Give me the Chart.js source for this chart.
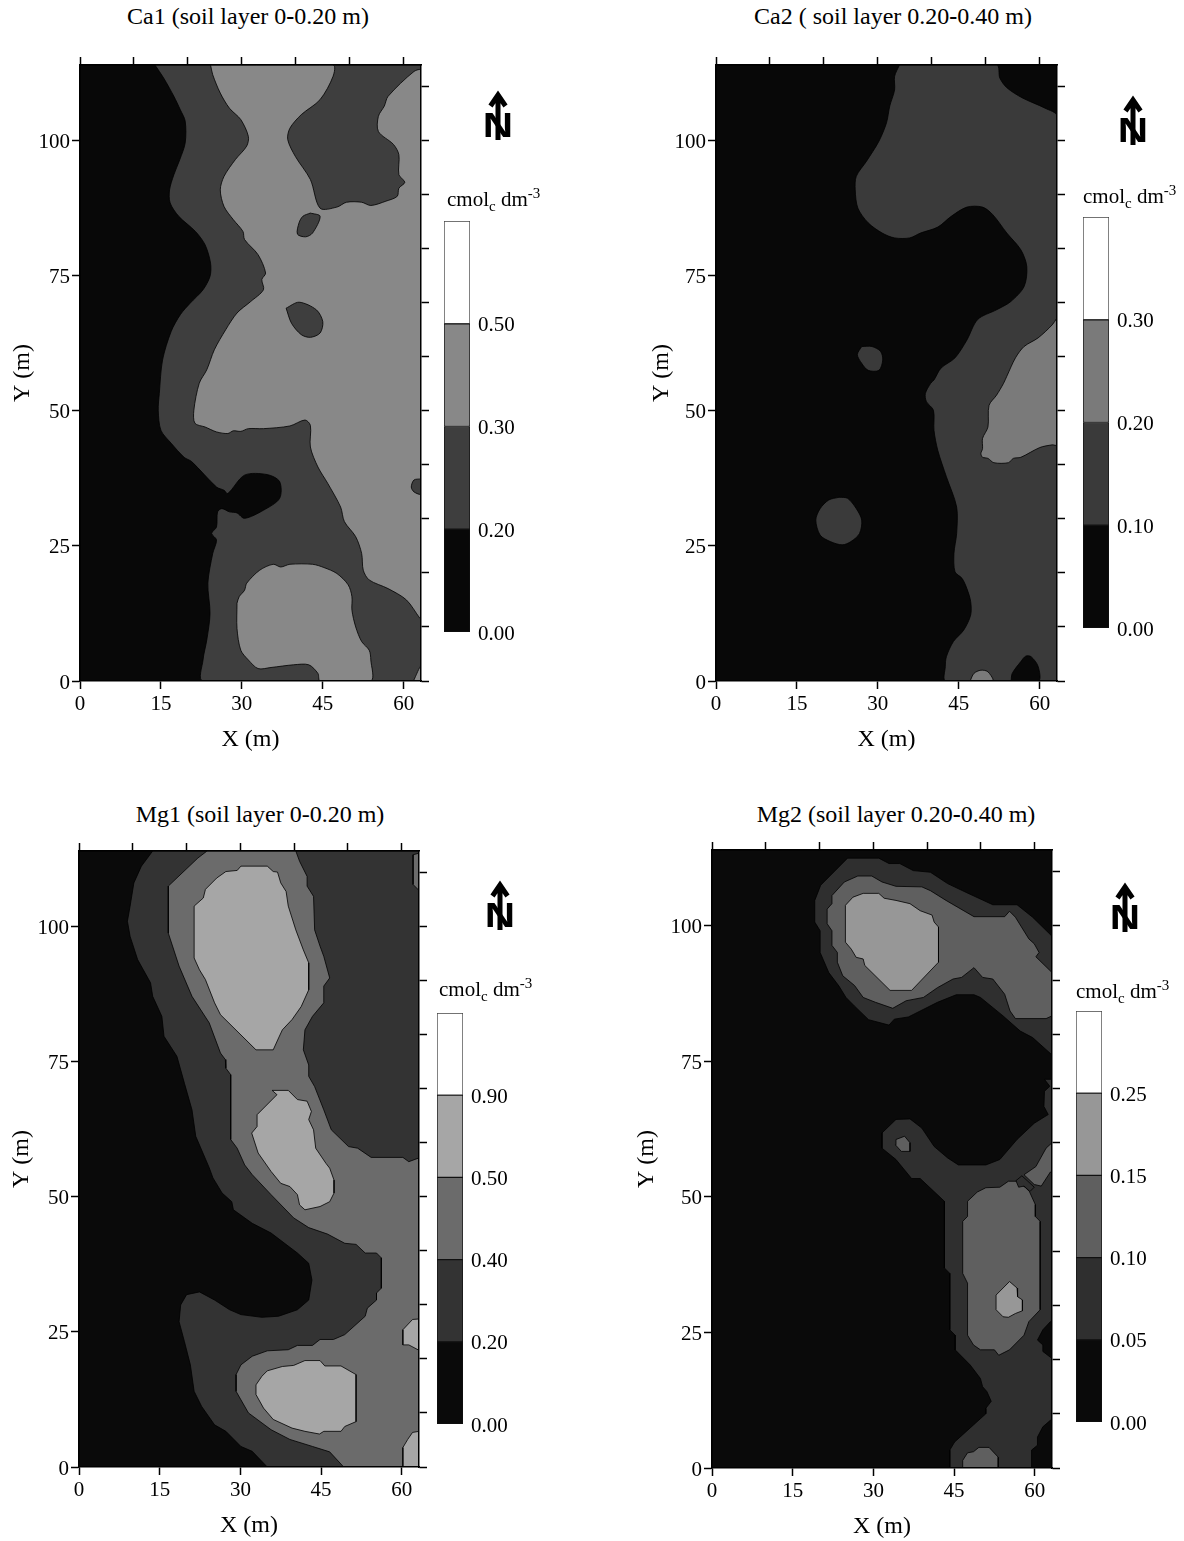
<!DOCTYPE html>
<html>
<head>
<meta charset="utf-8">
<title>Ca and Mg maps</title>
<script src="https://cdn.jsdelivr.net/npm/chart.js@4"></script>
<style>
    html, body { margin: 0; padding: 0; background: #fff; }
    #page { position: relative; width: 1184px; height: 1541px; overflow: hidden; font-family: "Liberation Serif", serif; color: #000; }
    canvas { position: absolute; }
    .title { position: absolute; font-size: 24px; line-height: 28px; white-space: pre; transform: translate(-50%, -50%); }
    .unit { position: absolute; font-size: 21px; line-height: 24px; white-space: pre; transform: translateY(-50%); }
    .unit sub, .unit sup { font-size: 15px; line-height: 0; }
    .north { position: absolute; width: 32px; height: 52px; }
    .north span { position: absolute; left: 0; top: 18px; width: 32px; text-align: center; font: bold 35px/36px "Liberation Sans", sans-serif; transform: scaleX(1.2); }
    .north svg { position: absolute; left: 0; top: 0; }
</style>
</head>
<body>
<div id="page"></div>
<script>
// axis values
const xBottomTicks = [0, 15, 30, 45, 60];
const yLeftTicks = [0, 25, 50, 75, 100];
const xTopStep = 10;
const yRightStep = 10;
const xMax = 63.2;
const yMax = 114;

// colour bar labels, bottom to top
const ca1Levels = ['0.00', '0.20', '0.30', '0.50'];
const ca2Levels = ['0.00', '0.10', '0.20', '0.30'];
const mg1Levels = ['0.00', '0.20', '0.40', '0.50', '0.90'];
const mg2Levels = ['0.00', '0.05', '0.10', '0.15', '0.25'];

// contours as [x, y] in metres
const plotRect = [[0, 0], [0, 114], [63.2, 114], [63.2, 0]];

const ca1Dark = [[13.9,114],[15.5,111.6],[17.4,108.2],[18.6,105.7],[19.5,103.6],[19.5,99.6],[18.5,96.5],[17.4,93.7],[16.6,90.9],[16.7,88.5],[18.3,86],[21.4,83.2],[23.2,80.7],[24.2,77.3],[24.1,74.9],[22.8,72.4],[20.4,69.9],[18.6,67.8],[16.9,64.7],[15.3,59.4],[14.7,53.2],[14.5,50.1],[15,46.4],[16.9,44],[19.3,41.4],[20.7,40.6],[25.3,35.9],[26.7,35.3],[27.4,34.7],[30.5,38.1],[34.7,38.2],[37,36.9],[37,33.8],[34,31.6],[30.5,30.1],[29.1,31.1],[27.7,31.3],[26.3,31.9],[25.5,31.3],[25.3,28.5],[24.4,27.3],[25.3,26.1],[24.6,23.6],[23.7,18.1],[24.1,12.5],[23.5,7.6],[22.8,3.9],[22.8,0],[63.2,0],[63.2,114]];
const ca1Mid = [[24.2,114],[24.6,112.2],[26,108.8],[27.7,106],[29.8,103.9],[31.2,100.8],[30.9,99],[28.8,96.5],[26.7,93.4],[26,90.9],[26.7,87.8],[28.4,85.4],[30.2,83.2],[30.5,81.7],[33,78.9],[34.4,75.5],[33.7,74.3],[34,72.4],[31.6,70.2],[29.1,68.1],[27,65],[24.9,61.3],[23.5,57.6],[22.1,55.1],[21.1,50.1],[21.3,47.7],[23.2,47],[25.3,46.1],[27.4,45.8],[28.4,46.3],[29.8,46.2],[31.2,46.7],[34,46.7],[38.9,47.2],[41.7,48.3],[42.7,47.3],[42.7,43.3],[44.1,39.6],[45.9,36.6],[48.3,32.2],[49,29.5],[51.1,26.7],[52.2,23.6],[52.5,20.5],[53.6,18.7],[57.1,17.1],[60.5,15],[63,11.6],[63.2,11.5],[63.2,113],[61.9,112.8],[57.1,108.2],[56.4,106.4],[55.3,104.5],[55.3,101.7],[58.1,99.3],[59.1,97.4],[59.1,93.7],[60.2,92.3],[59.1,91.2],[58.8,89.7],[56.7,88.8],[53.9,88],[52.2,88.6],[49.4,88.6],[47.6,87.7],[44.5,87.5],[42.7,92.8],[39.9,97.1],[38.5,100.2],[38.9,102.3],[41,104.8],[44.5,107.6],[46.9,111.9],[46.9,114]];
const ca1MidLow = [[29.1,14.4],[29.5,15.6],[30.5,16.8],[30.9,18.1],[33.3,20.5],[35.8,21.6],[37.2,21.1],[38.9,21.6],[43.1,21.6],[45.2,21],[47.6,19.9],[49.7,17.8],[50.4,15.6],[50.4,13.1],[51.1,10],[52.2,7.3],[53.6,5.7],[53.9,3.9],[53.9,0],[44.5,0],[44.1,1.4],[42.4,3],[39.6,3],[35.4,2.5],[33,2.3],[31.2,3.9],[29.8,5.7],[29.1,9.7]];
const ca1MidCorner = [[61.8,0],[63.2,2.8],[63.2,0]];
const ca1IslandA = [[42.7,86.6],[44.5,86],[43.1,82.9],[41.8,82.2],[40.3,82.7],[40.6,84.8],[41.3,86]];
const ca1IslandB = [[38.2,69],[40.6,70.1],[43.8,68.7],[45,66.5],[44.5,64.4],[42.7,63.6],[41,64.1],[39.2,66.2]];
const ca1IslandC = [[63.2,37.4],[61.9,37.2],[61.4,35.9],[61.9,35],[63.2,34.6]];

const ca2Dark = [[34,114],[33.1,111.9],[33.1,109.4],[32.2,106.4],[31.6,103.3],[30.2,99.9],[27.9,96.2],[26,93.4],[25.8,90.9],[26.3,87.5],[28.2,84.8],[30.8,82.9],[33.1,82],[35.9,82],[37.9,82.9],[41.1,84],[43.6,86],[46.5,87.7],[49.4,87.7],[51.3,86.3],[53.9,82.9],[56.5,79.8],[57.6,76.7],[57.1,73],[54.6,70.2],[52,68.7],[48.5,66.9],[46.5,63.1],[44.3,59.8],[41.7,57.9],[40.4,55.7],[39.8,55.1],[38.8,53.2],[39,51.7],[40.3,50.1],[40.4,46.4],[41.1,42.7],[42.7,37.8],[44.6,32.2],[44.6,27.3],[44.1,23.6],[44.3,20.2],[45.6,19],[46.5,17.1],[47.2,14.7],[47.2,12.2],[45.9,9.4],[44,7.3],[42.7,4.5],[42.5,2.7],[42.6,0],[63.2,0],[63.2,104.5],[61,106],[56.8,107.9],[53.9,109.8],[52.6,111.6],[52,114]];
const ca2Mid = [[63.2,67.2],[62.3,65.9],[59.7,63.5],[57.1,61.9],[55.5,59.8],[53.9,56.4],[53.3,55.1],[52,52.9],[50.6,51],[50.4,47],[49.4,44.9],[49.4,43],[49.1,42.1],[49.4,41.4],[50.4,41.2],[51.5,40.4],[54.2,40.4],[55.1,41.2],[56.5,41.4],[60,43.2],[62.3,43.7],[63.2,43.7]];
const ca2IslandA = [[27,61.9],[28.9,61.9],[30.5,61],[30.9,59.4],[30.2,57.5],[28.2,57.5],[27,58.8],[26.2,60.4]];
const ca2IslandB = [[22.8,34],[24.4,33.8],[26,31.9],[27,29.8],[26.6,27.3],[25,25.8],[23.4,25.2],[21.2,25.8],[19.3,27],[18.5,29.8],[19.3,31.9],[20.9,33.5]];
const ca2MidFoot = [[47.1,0],[47.8,1.4],[49.1,2],[50.4,1.7],[51.3,0]];
const ca2BlackFoot = [[54.7,0],[54.9,1.4],[56.5,3.6],[57.4,4.6],[58.4,4.5],[59.7,2.7],[59.8,0]];

const mg1Dark = [[13.7,114],[11.6,111.2],[10.2,108.1],[9.5,103.8],[9,101],[9.5,98.2],[10.9,93.9],[13.3,89.6],[13.7,87.1],[15.4,83.4],[15.8,79.7],[18.2,76],[19.6,71],[21,66.1],[21.7,61.2],[24.2,55.4],[24.9,53.5],[26.6,50.7],[28.4,49.1],[28.7,47.6],[32.2,45.1],[35.7,43.3],[40.6,39.6],[42.7,37.7],[43.3,34.6],[42.7,30.9],[40.6,29.1],[37.1,27.9],[34,27.7],[30.1,28.2],[28,29.1],[25.2,30.9],[22.4,32.4],[20,31.9],[18.9,30],[18.6,26.9],[19.6,23.2],[20.7,18.9],[21.4,14],[22.8,11.2],[25.2,7.8],[27.3,6.6],[30.1,3.8],[32.2,2.9],[35,0],[63.2,0],[63.2,114]];
const mg1Mid = [[23.8,114],[22.1,112.7],[16.6,107.5],[16.6,98.8],[18.6,92.7],[21,87.1],[24.2,82.2],[26.3,76.6],[27.2,75.4],[27.3,73.8],[28.2,72.6],[28.2,60.6],[29.4,59],[30.8,55.9],[32.2,54.1],[35.7,50.4],[39.9,46.1],[42.7,44.3],[46.2,43.1],[49.4,41.4],[51.5,41.2],[53.2,39.6],[55.3,39.6],[56.2,38.7],[56.2,33.1],[55.3,32.2],[55.3,30.9],[53.6,29.4],[53.2,27.9],[49.4,24.5],[47.3,23.6],[44.8,23.6],[43.4,22.5],[40.6,22.5],[38.9,21.7],[35,21.5],[32.2,20.5],[30.1,18.9],[29.2,17.1],[29.2,14],[31.5,10],[35.7,6.9],[39.2,5.1],[43.4,3.8],[46.6,2.8],[49.2,0],[63.2,0],[63.2,57.2],[61.3,56.5],[60.2,57.3],[54.3,57.3],[51.8,59],[50.1,59.3],[46.9,62.4],[45.5,66.1],[43.8,70.4],[42.7,72.3],[42.7,74.4],[41.7,77.2],[42,80.9],[43.4,83.4],[45.5,85.9],[45.5,89],[46.6,90.5],[45.5,94.5],[44.8,96.4],[43.8,99.4],[43.6,105.6],[42.4,107.5],[42.4,109.3],[41,112.1],[40.3,114]];
const mg1MidCorner = [[63.2,114],[63.2,113.6],[62.1,113.3],[62.1,107.8],[63.2,106.7]];
const mg1LightTop = [[27.3,110.2],[29.4,110.4],[30.1,111.2],[35,111.2],[36.1,110.2],[36.9,110.1],[37.5,108.1],[38.5,106.5],[38.9,103.8],[40.3,99.4],[41.7,95.7],[42.7,93.3],[42.7,88.3],[41.3,85.2],[39.6,82.8],[37.8,80.9],[37.1,79.4],[36.1,77.2],[32.9,77.2],[26.3,83.7],[25.2,85.9],[23.5,90.2],[22.4,92],[21.4,94.2],[21.4,103.8],[23.1,105.3],[23.5,106.9],[25.6,109]];
const mg1LightCentre = [[35.9,69.7],[38.9,69.7],[40.6,68],[42.4,67.7],[43.2,65.8],[42.7,64.3],[43.6,62.4],[44,59],[45.9,56.2],[46.6,55.3],[47.4,53.1],[47.4,50.7],[46.6,49.1],[44.8,48.2],[42,47.6],[41,48.5],[40.6,50.4],[39.2,51.9],[37.5,52.5],[35.7,54.7],[33.3,58.1],[32.1,61.8],[33.1,63],[33.1,65.2],[36.8,68.9]];
const mg1LightLow = [[34,16.8],[35,17.8],[37.8,18.6],[39.9,18.8],[42,19.7],[44.8,19.7],[45.7,18.7],[48.7,18.7],[51.5,17.1],[51.5,8.4],[49.4,7.5],[48.7,6.6],[45.5,6.6],[44.7,6.1],[42,6.6],[39.6,7.2],[36.1,8.8],[34.3,10.9],[32.9,13.4],[32.9,15.2]];
const mg1LightEdge = [[63.2,27.4],[62,27.3],[60.2,25.4],[60.2,22.6],[61.3,22.6],[63.2,21.6]];
const mg1LightFoot = [[63.2,6.6],[62,6.4],[61.1,5.1],[60.2,3.6],[60.2,0],[63.2,0]];

const mg2DarkTop = [[25.2,112.5],[31,112.5],[32.9,111.5],[34.9,111.5],[37.4,110.2],[40.6,109.9],[43.8,107.8],[47.4,106.1],[52.2,103.9],[56.7,103.9],[59.6,101.6],[63.1,98.2],[63.2,98.1],[63.2,76.2],[59.6,79.4],[57.3,80.6],[54.1,83.4],[49.9,86.8],[48.7,87.3],[45.4,87.3],[41.9,85.9],[38.1,84],[36.5,83.2],[33.9,82.8],[32.9,81.7],[29.1,82.7],[26.5,85.2],[24.9,86.8],[23.6,88.9],[21.7,91.4],[20.1,95.1],[20.1,99.1],[19.1,100.7],[19.1,104.7],[20.2,107.5]];
const mg2DarkLow = [[63.2,71.7],[61.8,71.7],[62.8,70.4],[61.8,69.5],[61.7,66.7],[62.5,65.2],[59.9,63.6],[56.7,60.6],[53.5,56.9],[50.9,55.9],[45.8,55.9],[43.8,57.2],[41.3,59.3],[39,62.7],[36.8,64.4],[34.2,64.3],[31.6,61.8],[31.6,59],[34.2,56.9],[37.1,53.4],[38.7,53.4],[43.2,49.2],[43.2,36.9],[44.2,35.9],[44.2,25.5],[45.2,24.5],[45.2,21.8],[48,19],[49.9,16.5],[50.3,15],[51.1,14.1],[51.9,12.3],[50.9,11],[50.9,10],[45.1,4.8],[44.2,3.3],[44.2,0],[59.4,0],[59.4,3.3],[60.5,4.2],[60.5,5.7],[61.5,7.6],[62.9,8.8],[63.2,8.8],[63.2,20.2],[61.5,21.5],[61.5,22.7],[60.5,23.6],[61.5,25.5],[62.9,27],[63.2,27]];
const mg2MidTop = [[27.1,109.2],[29.7,109.2],[31.6,108.1],[34.2,107.3],[39,107.2],[40.6,106.5],[43.5,104.7],[48.7,101.7],[54.4,101.7],[55.3,102.7],[56.4,101.6],[58.9,97.6],[59.9,96.7],[60.8,95.1],[60.2,94.3],[63.1,91.5],[63.2,91.5],[63.2,83.4],[62.1,82.9],[56.4,82.9],[55.4,84.3],[54.4,87.4],[52.2,90.2],[50.3,90.5],[48.7,92.3],[46.4,90.5],[44.8,90.2],[41.9,88.6],[39.3,86.8],[36.1,86.2],[33.6,84.8],[30.4,85.9],[28.1,86.8],[26.5,89],[24.3,90.8],[23.3,93.3],[23.3,95.1],[22.3,96.4],[22.3,99.1],[21.4,100.4],[21.4,103.1],[22.3,104.1],[22.3,105.6],[24.6,108.1]];
const mg2MidHook = [[34.2,60.6],[35.8,61.2],[36.8,60],[36.8,58.4],[35.2,58.4],[34.1,59.6]];
const mg2MidLow = [[50.9,51.7],[53.5,51.8],[55.1,52.9],[56.7,52.9],[58.3,51.7],[59,51],[60.1,48.6],[60.1,46.4],[61,45.5],[61,29.2],[58.9,27],[58,24.5],[55.3,21.8],[53.3,20.8],[52.5,21.8],[49.9,21.8],[48.6,22.7],[47.5,24.5],[47.5,34.1],[46.6,35.9],[46.6,45.5],[47.5,46.4],[47.5,49.2],[49.3,50.9]];
const mg2MidFoot = [[46.6,0],[46.6,1.4],[47.5,2.8],[48.6,3],[49.6,3.8],[51.5,3.8],[53.2,2],[53.2,0]];
const mg2MidEdge = [[63.2,60],[62.1,59],[60.2,55.6],[58,54.1],[59.9,52.3],[61.2,52],[62.9,54.6],[63.2,54.6]];
const mg2DarkSpot = [[56.5,53],[57.6,53.9],[58.6,53],[59.9,51.8],[59.1,51],[58,52],[57,51.8]];
const mg2LightTop = [[26.2,105.3],[28.1,106],[31,106],[32,105.1],[34.2,104.7],[36.8,104.1],[38.7,102.8],[40.9,102],[41.3,100.7],[42.1,99.8],[42.1,93.3],[37.1,88.1],[33.1,88.1],[28.4,92.7],[28.1,93.9],[26.8,94.2],[25.9,95.7],[24.8,97],[24.8,103.8]];
const mg2LightLow = [[55.3,34.4],[56.7,33.2],[56.8,31.6],[57.7,31],[57.7,29],[56.4,28.5],[55.1,27.8],[54.1,27.9],[52.8,29.2],[52.8,31.9]];

// band colours, lowest class first
const ca1Colors = ['#080808', '#3e3e3e', '#888888', '#ffffff'];
const ca2Colors = ['#080808', '#3a3a3a', '#7a7a7a', '#ffffff'];
const mg1Colors = ['#0a0a0a', '#333333', '#6b6b6b', '#a6a6a6', '#ffffff'];
const mg2Colors = ['#0a0a0a', '#2f2f2f', '#5f5f5f', '#979797', '#ffffff'];

// layout of the four panels, layers are painted in order as [contour, band]
const panels = [
    {
        title: 'Ca1 (soil layer 0<b>-</b>0.20 m)', titleX: 248, titleY: 16,
        plot: [80, 65, 421, 681], yTitleGap: 72, tension: 0.3,
        bar: [444, 221, 470, 632], unit: [447, 199], north: [482, 89],
        levels: ca1Levels, colors: ca1Colors,
        layers: [[plotRect, 0], [ca1Dark, 1], [ca1Mid, 2], [ca1MidLow, 2], [ca1MidCorner, 2], [ca1IslandA, 1], [ca1IslandB, 1], [ca1IslandC, 1]],
    },
    {
        title: 'Ca2 ( soil layer 0.20<b>-</b>0.40 m)', titleX: 893, titleY: 16,
        plot: [716, 65, 1057, 681], yTitleGap: 69, tension: 0.3,
        bar: [1083, 217, 1109, 628], unit: [1083, 196], north: [1117, 94],
        levels: ca2Levels, colors: ca2Colors,
        layers: [[plotRect, 0], [ca2Dark, 1], [ca2Mid, 2], [ca2IslandA, 1], [ca2IslandB, 1], [ca2MidFoot, 2], [ca2BlackFoot, 0]],
    },
    {
        title: 'Mg1 (soil layer 0-0.20 m)', titleX: 260, titleY: 814,
        plot: [79, 851, 419, 1467], yTitleGap: 72, tension: 0,
        bar: [437, 1013, 463, 1424], unit: [439, 989], north: [484, 879],
        levels: mg1Levels, colors: mg1Colors,
        layers: [[plotRect, 0], [mg1Dark, 1], [mg1Mid, 2], [mg1MidCorner, 2], [mg1LightTop, 3], [mg1LightCentre, 3], [mg1LightLow, 3], [mg1LightEdge, 3], [mg1LightFoot, 3]],
    },
    {
        title: 'Mg2 (soil layer 0.20<b>-</b>0.40 m)', titleX: 896, titleY: 814,
        plot: [712, 850, 1052, 1468], yTitleGap: 80, tension: 0,
        bar: [1076, 1011, 1102, 1422], unit: [1076, 991], north: [1109, 881],
        levels: mg2Levels, colors: mg2Colors,
        layers: [[plotRect, 0], [mg2DarkTop, 1], [mg2DarkLow, 1], [mg2MidTop, 2], [mg2MidHook, 2], [mg2MidLow, 2], [mg2MidFoot, 2], [mg2MidEdge, 2], [mg2DarkSpot, 1], [mg2LightTop, 3], [mg2LightLow, 3]],
    },
];

Chart.defaults.font.family = '"Liberation Serif", serif';
Chart.defaults.font.size = 21;
Chart.defaults.color = '#000';
Chart.defaults.animation = false;

const page = document.getElementById('page');

function addCanvas(left, top, width, height) {
    const canvas = document.createElement('canvas');
    canvas.width = width;
    canvas.height = height;
    canvas.style.left = left + 'px';
    canvas.style.top = top + 'px';
    canvas.style.width = width + 'px';
    canvas.style.height = height + 'px';
    page.appendChild(canvas);
    return canvas;
}

function addHtml(className, html, left, top) {
    const el = document.createElement('div');
    el.className = className;
    el.innerHTML = html;
    el.style.left = left + 'px';
    el.style.top = top + 'px';
    page.appendChild(el);
}

// tick marks stick out of the plot, nothing is drawn on the map itself
function axisLines() {
    return {
        grid: { display: true, drawOnChartArea: false, drawTicks: true, tickLength: 8, tickWidth: 1.5, tickColor: '#000' },
        border: { display: true, color: '#000', width: 1.5, z: 1 },
    };
}

function fixedSide(side, size) {
    return scale => { scale[side] = size; };
}

function drawMap(panel) {
    const [left, top, right, bottom] = panel.plot;
    const margin = { left: panel.yTitleGap, top: 20, right: 20, bottom: 73 };
    const canvas = addCanvas(left - margin.left, top - margin.top,
        right - left + margin.left + margin.right, bottom - top + margin.top + margin.bottom);

    const datasets = panel.layers.map(([shape, band], i) => ({
        data: [...shape, shape[0]].map(([x, y]) => ({ x, y })),
        showLine: true,
        fill: 'shape',
        backgroundColor: panel.colors[band],
        borderColor: '#000',
        borderWidth: 0.8,
        pointRadius: 0,
        tension: panel.tension,
        order: -i,
    }));

    new Chart(canvas, {
        type: 'scatter',
        data: { datasets },
        options: {
            responsive: false,
            layout: { padding: 0 },
            plugins: { legend: { display: false }, tooltip: { enabled: false } },
            scales: {
                x: {
                    type: 'linear', position: 'bottom', min: 0, max: xMax,
                    afterBuildTicks: scale => { scale.ticks = xBottomTicks.map(value => ({ value })); },
                    ticks: { padding: 3, maxRotation: 0, autoSkip: false, callback: v => String(v) },
                    title: { display: true, text: 'X (m)', padding: 0, font: { size: 24 } },
                    afterFit: fixedSide('height', margin.bottom),
                    ...axisLines(),
                },
                xTop: {
                    type: 'linear', position: 'top', axis: 'x', min: 0, max: xMax,
                    ticks: { display: false, stepSize: xTopStep, includeBounds: false, autoSkip: false },
                    afterFit: fixedSide('height', margin.top),
                    ...axisLines(),
                },
                y: {
                    type: 'linear', position: 'left', min: 0, max: yMax,
                    afterBuildTicks: scale => { scale.ticks = yLeftTicks.map(value => ({ value })); },
                    ticks: { padding: 2, labelOffset: 2, autoSkip: false, callback: v => String(v) },
                    title: { display: true, text: 'Y (m)', padding: 0, font: { size: 24 } },
                    afterFit: fixedSide('width', margin.left),
                    ...axisLines(),
                },
                yRight: {
                    type: 'linear', position: 'right', axis: 'y', min: 0, max: yMax,
                    ticks: { display: false, stepSize: yRightStep, includeBounds: false, autoSkip: false },
                    afterFit: fixedSide('width', margin.right),
                    ...axisLines(),
                },
            },
        },
    });
}

// colour bar: one floating bar per class, equal heights whatever the class limits are
function drawColorBar(panel) {
    const [left, top, right, bottom] = panel.bar;
    const pad = 14;
    const labelSpace = 60;
    const canvas = addCanvas(left, top - pad, right - left + labelSpace, bottom - top + 2 * pad);
    const bands = panel.colors.length;

    new Chart(canvas, {
        type: 'bar',
        data: {
            labels: [''],
            datasets: panel.colors.map((color, i) => ({
                data: [[i, i + 1]],
                backgroundColor: color,
                borderColor: i === bands - 1 ? '#444' : '#111',
                borderWidth: 1,
                borderSkipped: false,
                grouped: false,
                barPercentage: 1,
                categoryPercentage: 1,
            })),
        },
        options: {
            responsive: false,
            layout: { padding: { top: pad, bottom: pad } },
            plugins: { legend: { display: false }, tooltip: { enabled: false } },
            scales: {
                x: { display: false },
                y: {
                    type: 'linear', position: 'right', min: 0, max: bands,
                    grid: { display: false },
                    border: { display: false },
                    ticks: { stepSize: 1, padding: 0, labelOffset: 2, autoSkip: false, callback: v => panel.levels[v] ?? '' },
                    afterFit: scale => {
                        scale.width = labelSpace;
                        scale.paddingTop = 0;
                        scale.paddingBottom = 0;
                    },
                },
            },
        },
    });
}

function drawLabels(panel) {
    addHtml('title', panel.title, panel.titleX, panel.titleY);
    addHtml('unit', 'cmol<sub>c</sub> dm<sup>-3</sup>', panel.unit[0], panel.unit[1]);
    addHtml('north',
        '<span>N</span><svg width="32" height="52"><path d="M16 51V6M8.5 17L16 6L23.5 17" fill="none" stroke="#000" stroke-width="5"/></svg>',
        panel.north[0], panel.north[1]);
}

panels.forEach(panel => {
    drawMap(panel);
    drawColorBar(panel);
    drawLabels(panel);
});
</script>
</body>
</html>
